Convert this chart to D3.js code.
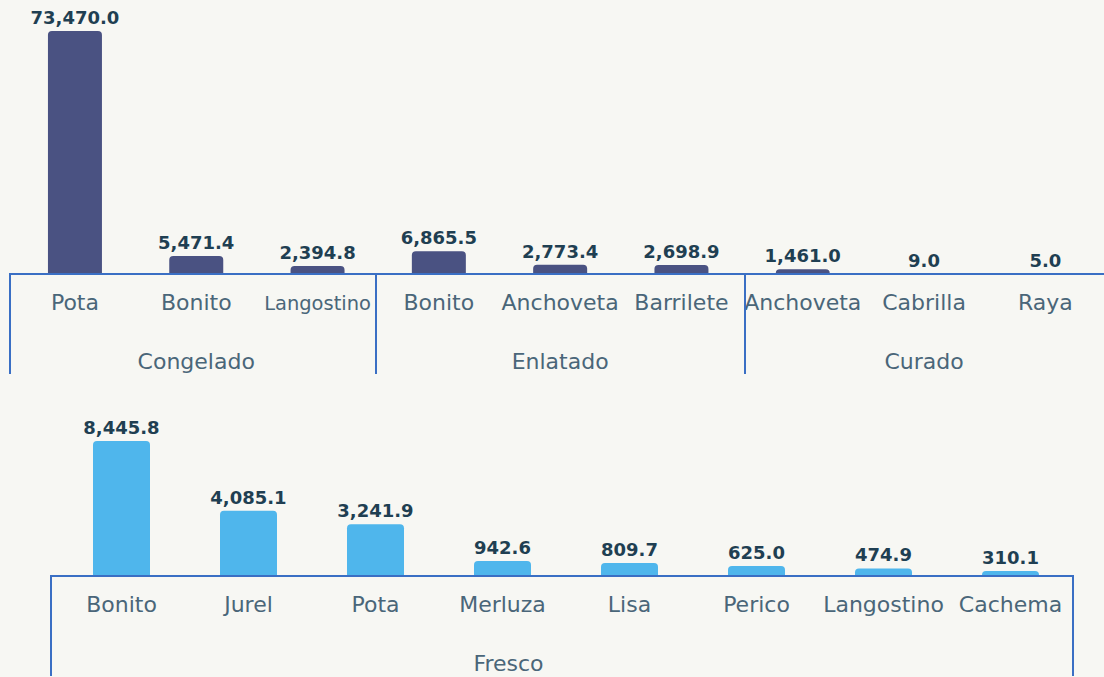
<!DOCTYPE html>
<html>
<head>
<meta charset="utf-8">
<script src="https://cdn.jsdelivr.net/npm/d3@7"></script>
<style>
  html, body { margin: 0; padding: 0; background: #f7f7f3; }
  svg { display: block; }
</style>
</head>
<body>
<div class="mainContainer"></div>
<script>
// top chart: Congelado / Enlatado / Curado
const topGroups = ['Congelado', 'Enlatado', 'Curado'];
const topCategories = ['Pota', 'Bonito', 'Langostino', 'Bonito', 'Anchoveta', 'Barrilete', 'Anchoveta', 'Cabrilla', 'Raya'];
const topGroupOf = [0, 0, 0, 1, 1, 1, 2, 2, 2];
const topValues = [73470.0, 5471.4, 2394.8, 6865.5, 2773.4, 2698.9, 1461.0, 9.0, 5.0];

// bottom chart: Fresco
const bottomGroups = ['Fresco'];
const bottomCategories = ['Bonito', 'Jurel', 'Pota', 'Merluza', 'Lisa', 'Perico', 'Langostino', 'Cachema'];
const bottomGroupOf = [0, 0, 0, 0, 0, 0, 0, 0];
const bottomValues = [8445.8, 4085.1, 3241.9, 942.6, 809.7, 625.0, 474.9, 310.1];

let width = 1104;
let height = 677;
const axisColor = '#3a6fc4';
const labelColor = '#4a6679';
const valueColor = '#1f3f52';
const fmt = d3.format(',.1f');
const catSize = 22;

let svg = d3.select('.mainContainer')
  .append('svg')
  .attr('width', width)
  .attr('height', height);

function drawPanel(cfg) {
  const n = cfg.categories.length;
  const x = d3.scaleBand()
    .domain(d3.range(n))
    .range(cfg.xRange)
    .paddingInner(0.55)
    .paddingOuter(0.275);
  const step = x.step();
  const y = d3.scaleLinear()
    .domain([0, cfg.max])
    .range([cfg.baseline, cfg.top]);

  const g = svg.append('g');

  // bars with rounded top corners
  const r = 4;
  g.selectAll('path.bar')
    .data(cfg.values)
    .enter()
    .append('path')
    .attr('class', 'bar')
    .attr('fill', cfg.color)
    .attr('d', (d, i) => {
      const x0 = x(i) + (x.bandwidth() - cfg.barWidth) / 2;
      const x1 = x0 + cfg.barWidth;
      const y0 = y(d);
      const yb = y(0);
      const rr = Math.min(r, (yb - y0));
      return `M${x0},${yb} L${x0},${y0 + rr} Q${x0},${y0} ${x0 + rr},${y0} L${x1 - rr},${y0} Q${x1},${y0} ${x1},${y0 + rr} L${x1},${yb} Z`;
    });

  // value labels
  g.selectAll('text.value')
    .data(cfg.values)
    .enter()
    .append('text')
    .attr('class', 'value')
    .attr('x', (d, i) => x(i) + x.bandwidth() / 2)
    .attr('y', d => y(d) - 7)
    .attr('text-anchor', 'middle')
    .style('font-family', 'DejaVu Sans, sans-serif')
    .style('font-weight', 'bold')
    .style('font-size', '18px')
    .style('fill', valueColor)
    .text(d => fmt(d));

  // category labels, shrunk if they do not fit
  g.selectAll('text.cat')
    .data(cfg.categories)
    .enter()
    .append('text')
    .attr('class', 'cat')
    .attr('x', (d, i) => x(i) + x.bandwidth() / 2)
    .attr('y', cfg.baseline + 36)
    .attr('text-anchor', 'middle')
    .style('font-family', 'DejaVu Sans, sans-serif')
    .style('font-size', catSize + 'px')
    .style('fill', labelColor)
    .text(d => d)
    .each(function() {
      const w = this.getComputedTextLength();
      if (w > step * 0.98) {
        d3.select(this).style('font-size', (catSize * step * 0.88 / w) + 'px');
      }
    });

  // group labels, centred on the middle bar of each group
  cfg.groups.forEach((name, gi) => {
    const idx = d3.range(n).filter(i => cfg.groupOf[i] === gi);
    const mid = idx[Math.floor((idx.length - 1) / 2)];
    g.append('text')
      .attr('x', x(mid) + x.bandwidth() / 2 + cfg.groupShift)
      .attr('y', cfg.baseline + 95)
      .attr('text-anchor', 'middle')
      .style('font-family', 'DejaVu Sans, sans-serif')
      .style('font-size', catSize + 'px')
      .style('fill', labelColor)
      .text(name);
  });

  // axis line and group dividers
  g.append('line')
    .attr('x1', cfg.frame[0]).attr('x2', cfg.frame[1])
    .attr('y1', cfg.baseline).attr('y2', cfg.baseline)
    .attr('stroke', axisColor).attr('stroke-width', 2);

  cfg.dividers.forEach(xd => {
    g.append('line')
      .attr('x1', xd).attr('x2', xd)
      .attr('y1', cfg.baseline - 1).attr('y2', cfg.baseline + 100)
      .attr('stroke', axisColor).attr('stroke-width', 2);
  });
}

// top panel
const topStep = 121.3;
drawPanel({
  categories: topCategories,
  values: topValues,
  groups: topGroups,
  groupOf: topGroupOf,
  xRange: [14.3, 14.3 + topStep * topCategories.length],
  baseline: 274,
  top: 31,
  max: d3.max(topValues),
  barWidth: 54,
  color: '#4a5282',
  frame: [10, 1110],
  dividers: [10, 376, 745],
  groupShift: 0
});

// bottom panel
const bottomStep = 127;
drawPanel({
  categories: bottomCategories,
  values: bottomValues,
  groups: bottomGroups,
  groupOf: bottomGroupOf,
  xRange: [58, 58 + bottomStep * bottomCategories.length],
  baseline: 576,
  top: 441,
  max: d3.max(bottomValues),
  barWidth: 57,
  color: '#4fb6ec',
  frame: [51, 1073],
  dividers: [51, 1073],
  groupShift: 6
});
</script>
</body>
</html>
